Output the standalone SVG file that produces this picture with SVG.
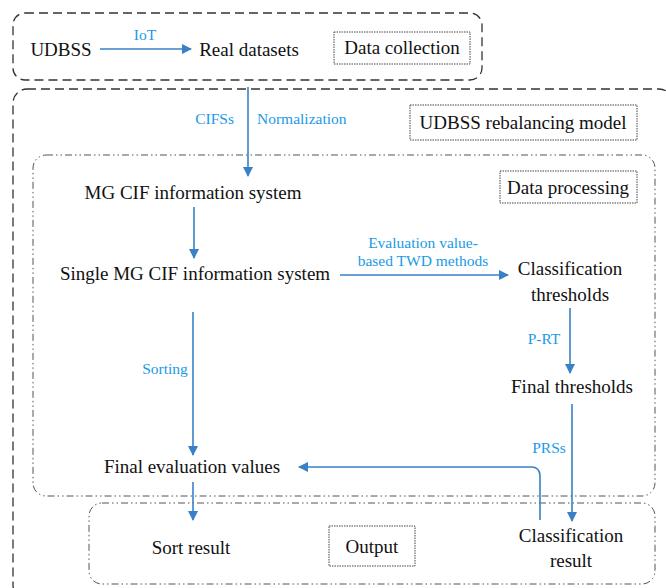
<svg xmlns="http://www.w3.org/2000/svg" width="666" height="588" viewBox="0 0 666 588">
<defs>
<marker id="ah" viewBox="0 0 10 10" refX="9" refY="5" markerWidth="10" markerHeight="10" markerUnits="userSpaceOnUse" orient="auto">
<path d="M0,0 L10,5 L0,10 z" fill="#3a80c6"/>
</marker>
<style>
.t{font-family:Liberation Serif, Times New Roman, serif;font-size:19px;fill:#111;}
.l{font-family:Liberation Serif, Times New Roman, serif;font-size:15.5px;fill:#1a9ae6;}
.c{fill:none;stroke:#3a80c6;stroke-width:1.6;}
.dash{fill:none;stroke:#333;stroke-width:1.3;stroke-dasharray:9,5;}
.dd{fill:none;stroke:#555;stroke-width:1;stroke-dasharray:7,3,1.5,3,1.5,3;}
.dot{fill:none;stroke:#444;stroke-width:1;stroke-dasharray:1.5,1;}
</style>
</defs>
<g id="containers">
<rect class="dash" x="13" y="13" width="469" height="67" rx="12"/>
<rect class="dash" x="13" y="89" width="660" height="510" rx="14"/>
<rect class="dd" x="33" y="155" width="622" height="341" rx="13"/>
<rect class="dd" x="89" y="503" width="566" height="81" rx="13"/>
</g>
<g id="tag-data-collection"><rect class="dot" x="334" y="32" width="136" height="32"/><text class="t" x="402" y="54" text-anchor="middle">Data collection</text></g>
<g id="tag-model"><rect class="dot" x="410" y="105" width="227" height="35"/><text class="t" x="523" y="129" text-anchor="middle">UDBSS rebalancing model</text></g>
<g id="tag-processing"><rect class="dot" x="500" y="171" width="137" height="32"/><text class="t" x="568" y="194" text-anchor="middle">Data processing</text></g>
<g id="tag-output"><rect class="dot" x="329" y="526" width="86" height="40"/><text class="t" x="372" y="553" text-anchor="middle">Output</text></g>
<g id="n-udbss"><text class="t" x="61" y="56" text-anchor="middle">UDBSS</text></g>
<g id="n-real"><text class="t" x="249" y="56" text-anchor="middle">Real datasets</text></g>
<g id="n-mg"><text class="t" x="193" y="199" text-anchor="middle">MG CIF information system</text></g>
<g id="n-single"><text class="t" x="195" y="280" text-anchor="middle">Single MG CIF information system</text></g>
<g id="n-ct"><text class="t" x="570" y="275" text-anchor="middle">Classification</text><text class="t" x="570" y="301" text-anchor="middle">thresholds</text></g>
<g id="n-ft"><text class="t" x="572" y="393" text-anchor="middle">Final thresholds</text></g>
<g id="n-fev"><text class="t" x="192" y="473" text-anchor="middle">Final evaluation values</text></g>
<g id="n-sort"><text class="t" x="191" y="554" text-anchor="middle">Sort result</text></g>
<g id="n-cr"><text class="t" x="571" y="542" text-anchor="middle">Classification</text><text class="t" x="571" y="567" text-anchor="middle">result</text></g>
<g id="connectors">
<line class="c" x1="100" y1="49" x2="191" y2="49" marker-end="url(#ah)"/>
<text class="l" x="145" y="40" text-anchor="middle">IoT</text>
<line class="c" x1="248" y1="87" x2="248" y2="176" marker-end="url(#ah)"/>
<text class="l" x="234" y="124" text-anchor="end">CIFSs</text>
<text class="l" x="257" y="124">Normalization</text>
<line class="c" x1="194" y1="207" x2="194" y2="258" marker-end="url(#ah)"/>
<line class="c" x1="340" y1="275" x2="508" y2="275" marker-end="url(#ah)"/>
<text class="l" x="423" y="248" text-anchor="middle">Evaluation value-</text>
<text class="l" x="423" y="266" text-anchor="middle">based TWD methods</text>
<line class="c" x1="570" y1="308" x2="570" y2="373" marker-end="url(#ah)"/>
<text class="l" x="544" y="344" text-anchor="middle">P-RT</text>
<line class="c" x1="572" y1="404" x2="572" y2="521" marker-end="url(#ah)"/>
<text class="l" x="549" y="453" text-anchor="middle">PRSs</text>
<line class="c" x1="193" y1="312" x2="193" y2="455" marker-end="url(#ah)"/>
<text class="l" x="165" y="374" text-anchor="middle">Sorting</text>
<path class="c" d="M540,520 L540,476 Q540,467 531,467 L299,467" marker-end="url(#ah)"/>
<line class="c" x1="193" y1="482" x2="193" y2="520" marker-end="url(#ah)"/>
</g>
</svg>
